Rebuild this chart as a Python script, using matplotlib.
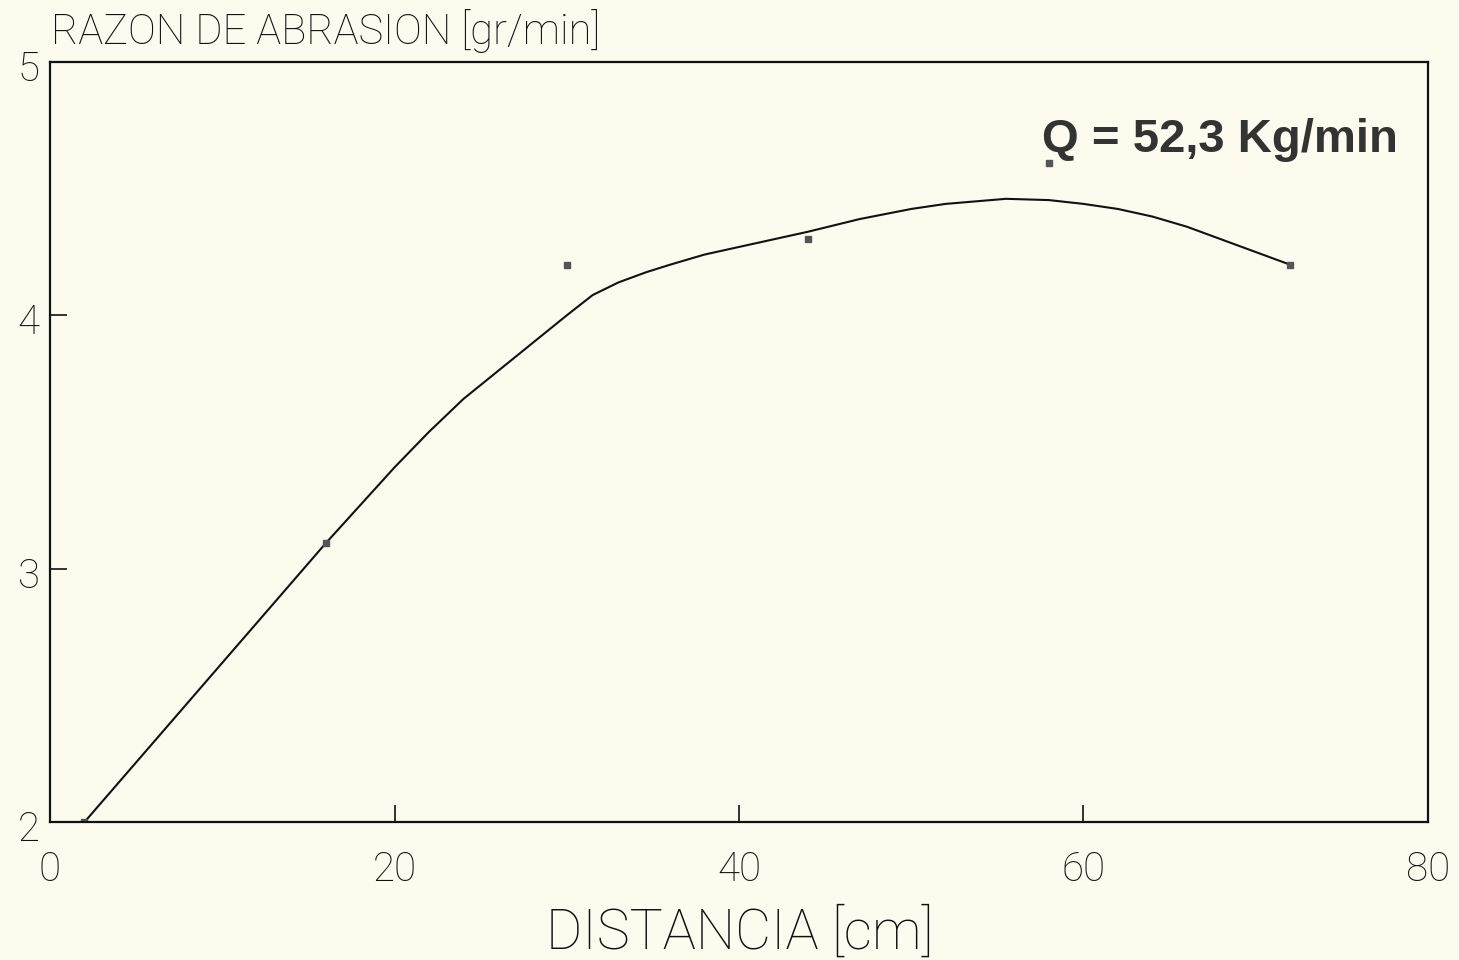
import numpy as np
import matplotlib.pyplot as plt

# measured points
dist = [2, 16, 30, 44, 58, 72]
rate = [2.0, 3.1, 4.2, 4.3, 4.6, 4.2]

# fitted curve
curve_x = [2, 16, 18, 20, 22, 24, 26, 28, 30, 31.5, 33, 34.6, 36, 38, 40, 42, 44,
           47, 50, 52, 55.5, 58, 60, 62, 64, 66, 68, 70, 72]
curve_y = [2.0, 3.1, 3.25, 3.40, 3.54, 3.67, 3.78, 3.89, 4.00, 4.08, 4.13, 4.17,
           4.20, 4.24, 4.27, 4.30, 4.33, 4.38, 4.42, 4.44, 4.46, 4.455, 4.44,
           4.42, 4.39, 4.35, 4.30, 4.25, 4.2]

bg = '#fcfbee'
ink = '#111111'
thin = ['Roboto', 'DejaVu Sans']

fig = plt.figure(figsize=(14.59, 9.6), dpi=100, facecolor=bg)
ax = fig.add_axes([0.0343, 0.1437, 0.9444, 0.7917], facecolor=bg)

ax.plot(curve_x, curve_y, color=ink, lw=1.5)
ax.plot(dist, rate, 's', color='#555555', ms=4, mec='#555555')

ax.set_xlim(0, 80)
ax.set_ylim(2, 5)
ax.set_xticks([20, 40, 60])
ax.set_yticks([3, 4])
ax.set_xticklabels([])
ax.set_yticklabels([])
ax.tick_params(direction='in', length=12, width=1.2, color=ink)
for s in ax.spines.values():
    s.set_linewidth(1.6)
    s.set_color(ink)

# tick labels as plain text, like the plotter output
for v in [0, 20, 40, 60, 80]:
    ax.text(v, 1.81, str(v), ha='center', va='center', fontsize=29,
            family=thin, fontweight='light', color=ink, clip_on=False)
for v in [2, 3, 4, 5]:
    ax.text(-0.6, v - 0.03, str(v), ha='right', va='center', fontsize=29,
            family=thin, fontweight='light', color=ink, clip_on=False)

fig.text(0.035, 0.968, 'RAZON DE ABRASION [gr/min]', ha='left', va='center',
         fontsize=30, family=thin, fontweight='light', color=ink)
fig.text(0.507, 0.028, 'DISTANCIA [cm]', ha='center', va='center',
         fontsize=40, family=thin, fontweight='light', color=ink)

ax.text(0.720, 0.897, 'Q = 52,3 Kg/min', transform=ax.transAxes, ha='left',
        va='center', fontsize=34, fontweight='bold',
        family=['Liberation Sans', 'DejaVu Sans'], color='#333333')

fig.savefig('out.png', dpi=100, facecolor=bg)
